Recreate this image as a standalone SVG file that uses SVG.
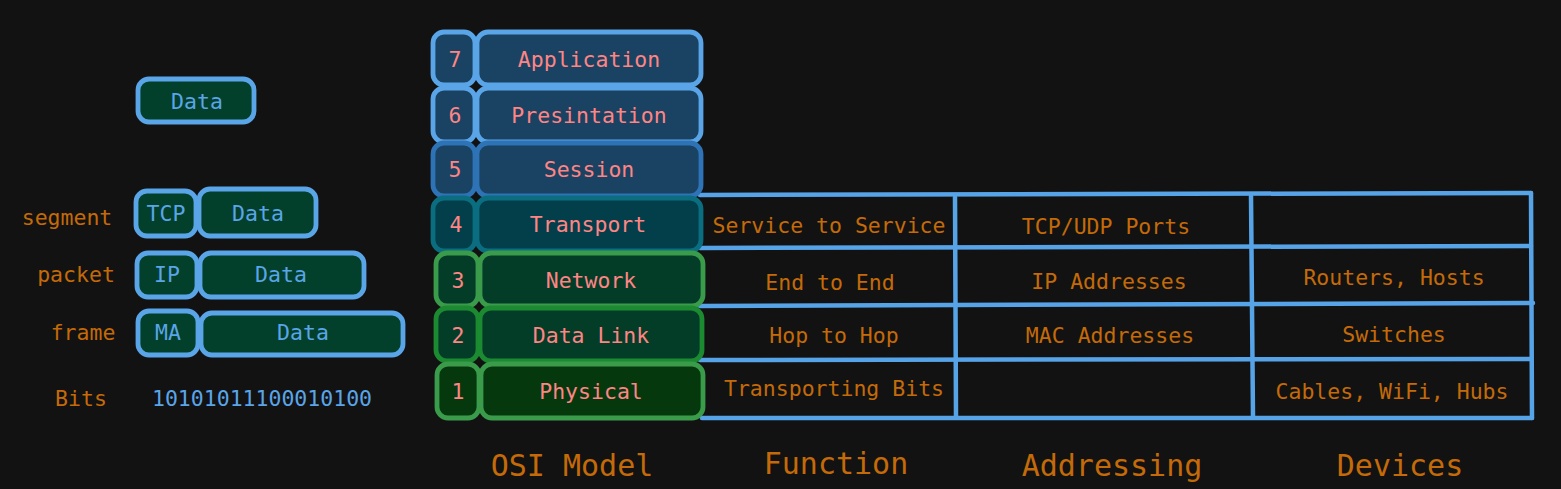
<svg xmlns="http://www.w3.org/2000/svg" width="1561" height="489" viewBox="0 0 1561 489">
<style>
text{font-family:"DejaVu Sans Mono","Liberation Mono",monospace;text-anchor:middle;dominant-baseline:central}
.lt{font-size:21.5px;fill:#ff8585}
.ot{font-size:21.5px;fill:#c46a08}
.bt{font-size:21.5px;fill:#5aa5e8}
.ti{font-size:30px;fill:#c46a08}
.pk{fill:#03402b;stroke:#5aa5e8;stroke-width:4.8}
.grid{stroke:#57a3e8;stroke-width:4.5;fill:none;stroke-linecap:round}
.b{stroke-width:4.8}
</style>
<rect width="1561" height="489" fill="#121212"/>

<g id="table" class="grid">
<path d="M700 195 L1531 193 M700 248 L1531 246 M700 306 L1533 303 M700 360 L1531 359 M702 418 L1532 418"/>
<path d="M955 197 L956 417 M1251 196 L1253 417 M1531 193 L1532 418"/>
</g>

<g id="layer7">
<rect class="b" x="433" y="32" width="42" height="53" rx="11" fill="#1a4262" stroke="#5aa5e8"/>
<rect class="b" x="477" y="32" width="224" height="53" rx="11" fill="#1a4262" stroke="#5aa5e8"/>
<text class="lt" x="455" y="59">7</text><text class="lt" x="589" y="59">Application</text>
</g>
<g id="layer6">
<rect class="b" x="433" y="88" width="42" height="54" rx="11" fill="#1a4262" stroke="#5aa5e8"/>
<rect class="b" x="477" y="88" width="224" height="54" rx="11" fill="#1a4262" stroke="#5aa5e8"/>
<text class="lt" x="455" y="115">6</text><text class="lt" x="589" y="115">Presintation</text>
</g>
<g id="layer5">
<rect class="b" x="433" y="143" width="42" height="53" rx="11" fill="#1a4262" stroke="#2d73b5"/>
<rect class="b" x="477" y="143" width="224" height="53" rx="11" fill="#1a4262" stroke="#2d73b5"/>
<text class="lt" x="455" y="169">5</text><text class="lt" x="589" y="169">Session</text>
</g>
<g id="layer4">
<rect class="b" x="433" y="198" width="42" height="53" rx="11" fill="#023f4b" stroke="#0b6e80"/>
<rect class="b" x="477" y="198" width="224" height="53" rx="11" fill="#023f4b" stroke="#0b6e80"/>
<text class="lt" x="456" y="224">4</text><text class="lt" x="588" y="224">Transport</text>
</g>
<g id="layer3">
<rect class="b" x="436" y="253" width="42" height="53" rx="11" fill="#033d28" stroke="#3a9b4a"/>
<rect class="b" x="480" y="253" width="223" height="53" rx="11" fill="#033d28" stroke="#3a9b4a"/>
<text class="lt" x="458" y="280">3</text><text class="lt" x="591" y="280">Network</text>
</g>
<g id="layer2">
<rect class="b" x="436" y="308" width="42" height="53" rx="11" fill="#033d28" stroke="#1c8a30"/>
<rect class="b" x="480" y="308" width="222" height="53" rx="11" fill="#033d28" stroke="#1c8a30"/>
<text class="lt" x="458" y="335">2</text><text class="lt" x="591" y="335">Data Link</text>
</g>
<g id="layer1">
<rect class="b" x="437" y="364" width="42" height="54" rx="11" fill="#06380e" stroke="#3a9b4a"/>
<rect class="b" x="481" y="364" width="222" height="54" rx="11" fill="#06380e" stroke="#3a9b4a"/>
<text class="lt" x="458" y="391">1</text><text class="lt" x="591" y="391">Physical</text>
</g>

<g id="cells">
<text class="ot" x="829" y="225">Service to Service</text>
<text class="ot" x="1106" y="226">TCP/UDP Ports</text>
<text class="ot" x="830" y="282">End to End</text>
<text class="ot" x="1109" y="281">IP Addresses</text>
<text class="ot" x="1394" y="277">Routers, Hosts</text>
<text class="ot" x="834" y="335">Hop to Hop</text>
<text class="ot" x="1110" y="335">MAC Addresses</text>
<text class="ot" x="1394" y="334">Switches</text>
<text class="ot" x="834" y="388">Transporting Bits</text>
<text class="ot" x="1392" y="391">Cables, WiFi, Hubs</text>
</g>

<g id="titles">
<text class="ti" x="572" y="465">OSI Model</text>
<text class="ti" x="836" y="463">Function</text>
<text class="ti" x="1112" y="465">Addressing</text>
<text class="ti" x="1400" y="465">Devices</text>
</g>

<g id="data">
<rect class="pk" x="138" y="79" width="116" height="43" rx="11"/>
<text class="bt" x="197" y="101">Data</text>
</g>
<g id="segment">
<text class="ot" x="67" y="217">segment</text>
<rect class="pk" x="136" y="191" width="60" height="45" rx="11"/>
<rect class="pk" x="199" y="189" width="117" height="47" rx="11"/>
<text class="bt" x="166" y="213">TCP</text>
<text class="bt" x="258" y="213">Data</text>
</g>
<g id="packet">
<text class="ot" x="76" y="274">packet</text>
<rect class="pk" x="137" y="253" width="60" height="44" rx="11"/>
<rect class="pk" x="200" y="253" width="164" height="44" rx="11"/>
<text class="bt" x="167" y="274">IP</text>
<text class="bt" x="281" y="274">Data</text>
</g>
<g id="frame">
<text class="ot" x="83" y="332">frame</text>
<rect class="pk" x="138" y="311" width="60" height="44" rx="11"/>
<rect class="pk" x="201" y="313" width="202" height="42" rx="11"/>
<text class="bt" x="168" y="332">MA</text>
<text class="bt" x="303" y="332">Data</text>
</g>
<g id="bits">
<text class="ot" x="81" y="398">Bits</text>
<text class="bt" x="262" y="398">10101011100010100</text>
</g>
</svg>
